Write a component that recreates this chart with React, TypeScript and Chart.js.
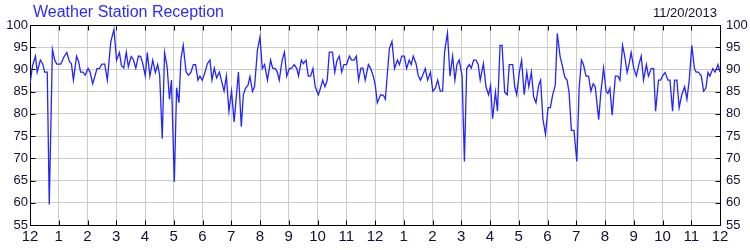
import React, { useEffect, useRef } from "react";
import { Chart, registerables } from "chart.js";

Chart.register(...registerables);

const TITLE = "Weather Station Reception";
const DATE_LABEL = "11/20/2013";
const HOUR_LABELS = ["12", "1", "2", "3", "4", "5", "6", "7", "8", "9", "10", "11", "12", "1", "2", "3", "4", "5", "6", "7", "8", "9", "10", "11", "12"];
const Y_MIN = 55;
const Y_MAX = 100;
const Y_STEP = 5;

// time of sample in hours since midnight
const hours = [
  0.0, 0.09, 0.19, 0.25, 0.36, 0.44, 0.51, 0.6, 0.67, 0.78, 0.86, 0.93, 1.07, 1.18, 1.28, 1.37, 1.44, 1.51, 1.62, 1.69, 1.76, 1.84, 1.92, 2.02, 2.09, 2.18, 2.25, 2.33, 2.41, 2.5, 2.6, 2.69, 2.81, 2.92, 3.01, 3.11, 3.18, 3.26, 3.35, 3.42, 3.52, 3.59, 3.68, 3.77, 3.85, 3.93, 4.01,
  4.08, 4.17, 4.27, 4.36, 4.44, 4.51, 4.6, 4.68, 4.77, 4.85, 4.92, 5.02, 5.1, 5.18, 5.25, 5.33, 5.43, 5.51, 5.6, 5.68, 5.76, 5.84, 5.91, 5.99, 6.09, 6.17, 6.26, 6.33, 6.41, 6.49, 6.59, 6.67, 6.75, 6.83, 6.92, 7.01, 7.1, 7.25, 7.35, 7.42, 7.5, 7.58, 7.65, 7.74, 7.81, 7.91, 8.0,
  8.08, 8.16, 8.26, 8.37, 8.44, 8.53, 8.6, 8.67, 8.77, 8.85, 8.93, 9.02, 9.1, 9.19, 9.28, 9.34, 9.44, 9.51, 9.6, 9.68, 9.76, 9.84, 9.92, 10.03, 10.1, 10.18, 10.26, 10.34, 10.41, 10.52, 10.6, 10.68, 10.76, 10.84, 10.92, 11.01, 11.11, 11.19, 11.27, 11.35, 11.43, 11.51, 11.58, 11.66, 11.77, 11.85, 11.94, 12.01, 12.08,
  12.2, 12.29, 12.36, 12.5, 12.59, 12.68, 12.78, 12.85, 12.93, 13.02, 13.1, 13.19, 13.26, 13.33, 13.43, 13.5, 13.58, 13.66, 13.75, 13.83, 13.93, 14.01, 14.1, 14.18, 14.27, 14.35, 14.42, 14.52, 14.61, 14.7, 14.78, 14.85, 14.93, 15.03, 15.11, 15.19, 15.28, 15.35, 15.43, 15.51, 15.59, 15.66, 15.77, 15.86, 15.95, 16.02, 16.09,
  16.19, 16.26, 16.35, 16.42, 16.51, 16.6, 16.67, 16.79, 16.86, 16.93, 17.02, 17.1, 17.19, 17.28, 17.35, 17.44, 17.52, 17.6, 17.69, 17.76, 17.84, 17.93, 18.02, 18.1, 18.18, 18.27, 18.34, 18.44, 18.5, 18.6, 18.68, 18.75, 18.83, 18.92, 19.02, 19.1, 19.18, 19.25, 19.34, 19.43, 19.51, 19.59, 19.66, 19.78, 19.86, 19.95, 20.04, 20.1, 20.17,
  20.25, 20.36, 20.45, 20.52, 20.61, 20.68, 20.77, 20.84, 20.91, 21.0, 21.09, 21.17, 21.26, 21.34, 21.44, 21.51, 21.61, 21.69, 21.76, 21.86, 21.93, 22.02, 22.09, 22.19, 22.26, 22.35, 22.42, 22.5, 22.58, 22.67, 22.77, 22.85, 22.93, 23.02, 23.11, 23.17, 23.25, 23.35, 23.43, 23.51, 23.58, 23.65, 23.75, 23.83, 23.93, 24.0,
];

// reception percentage
const reception = [
  86.8, 90.9, 93.0, 89.4, 92.1, 91.3, 89.4, 89.4, 59.6, 94.5, 92.1, 91.2, 91.2, 92.8, 93.8, 91.8, 91.3, 87.6, 93.0, 91.8, 89.4, 89.4, 88.7, 90.2, 89.4, 86.8, 88.3, 90.2, 90.2, 91.2, 91.2, 87.6, 96.2, 99.0, 92.1, 93.8, 90.9, 90.3, 93.9, 90.6, 92.9, 92.3, 90.3, 93.0, 92.9, 91.1, 88.6,
  93.8, 88.5, 92.1, 89.3, 91.1, 88.7, 74.4, 93.8, 90.6, 83.3, 87.6, 64.7, 85.9, 82.5, 92.4, 95.4, 89.4, 88.7, 89.4, 91.1, 91.1, 87.6, 88.5, 87.6, 89.4, 91.3, 92.1, 87.6, 90.3, 88.1, 89.4, 87.2, 85.1, 88.5, 80.6, 85.1, 78.2, 89.4, 77.1, 84.3, 85.8, 86.4, 88.4, 85.1, 86.1, 94.3, 97.3,
  90.2, 91.1, 87.6, 92.1, 90.3, 90.2, 89.4, 87.6, 92.1, 93.9, 88.5, 90.2, 90.3, 91.1, 90.2, 88.5, 92.1, 91.3, 92.1, 88.5, 88.5, 90.2, 86.1, 84.3, 85.7, 87.6, 86.1, 87.6, 93.9, 93.9, 89.4, 92.1, 93.0, 89.4, 91.1, 91.1, 93.0, 92.1, 92.1, 93.0, 87.6, 90.3, 90.3, 87.6, 91.1, 90.2, 88.5, 86.4, 82.5,
  84.3, 84.2, 83.3, 94.7, 96.3, 90.2, 92.1, 91.1, 93.0, 93.0, 90.2, 92.1, 91.1, 93.0, 91.3, 88.7, 87.6, 88.7, 90.2, 87.6, 89.4, 85.1, 85.8, 87.6, 85.1, 85.1, 93.9, 98.2, 88.5, 93.0, 87.6, 91.1, 92.1, 88.5, 69.3, 90.2, 91.1, 90.3, 92.1, 92.1, 91.1, 87.6, 91.3, 86.1, 84.3, 86.4, 78.9,
  84.9, 80.6, 95.4, 95.4, 84.9, 84.3, 91.1, 91.1, 86.1, 84.3, 89.4, 92.1, 84.3, 89.4, 86.1, 89.4, 83.8, 82.5, 86.4, 87.6, 78.9, 75.4, 81.4, 81.4, 84.3, 86.4, 98.1, 92.8, 91.3, 88.3, 87.6, 84.9, 76.3, 76.3, 69.3, 85.7, 92.1, 91.1, 88.5, 88.5, 85.1, 86.8, 86.1, 78.7, 85.1, 90.3, 85.1, 84.6, 85.8,
  79.7, 88.5, 88.5, 87.6, 95.4, 93.2, 89.3, 91.3, 93.8, 90.3, 88.5, 90.9, 93.0, 87.6, 91.1, 88.5, 90.2, 90.2, 80.6, 87.6, 87.6, 88.7, 89.3, 87.6, 87.6, 80.6, 87.6, 87.6, 81.4, 84.3, 86.1, 83.3, 87.6, 95.4, 90.2, 89.4, 89.4, 88.5, 85.1, 85.8, 89.3, 88.5, 90.2, 89.4, 91.1, 89.4,
];

const LABEL_FONT = "'Liberation Sans', Arial, sans-serif";
const X_FONT = "'Liberation Sans Narrow', 'Liberation Sans', Arial, sans-serif";

const framePlugin = {
  id: "frame",
  beforeDatasetsDraw(chart: any) {
    const { ctx, chartArea: a, scales } = chart;
    const tl = 5;
    ctx.save();
    ctx.strokeStyle = "#000";
    ctx.lineWidth = 1;
    ctx.beginPath();
    const top = Math.round(a.top) + 0.5;
    const bottom = Math.round(a.bottom) + 0.5;
    const left = Math.round(a.left) + 0.5;
    const right = Math.round(a.right) + 0.5;
    scales.x.ticks.forEach((t: any) => {
      const px = Math.round(scales.x.getPixelForValue(t.value)) + 0.5;
      ctx.moveTo(px, top);
      ctx.lineTo(px, top + tl);
      ctx.moveTo(px, bottom);
      ctx.lineTo(px, bottom - tl);
    });
    scales.y.ticks.forEach((t: any) => {
      const py = Math.round(scales.y.getPixelForValue(t.value)) + 0.5;
      ctx.moveTo(left, py);
      ctx.lineTo(left + tl, py);
      ctx.moveTo(right, py);
      ctx.lineTo(right - tl, py);
    });
    ctx.stroke();
    ctx.strokeRect(left, top, right - left, bottom - top);
    ctx.restore();
  },
  afterDraw(chart: any) {
    const { ctx } = chart;
    ctx.save();
    ctx.textBaseline = "alphabetic";
    ctx.font = `16px ${LABEL_FONT}`;
    ctx.fillStyle = "#2b2bff";
    ctx.textAlign = "left";
    ctx.fillText(TITLE, 33, 17);
    ctx.font = `13px ${LABEL_FONT}`;
    ctx.fillStyle = "#101030";
    ctx.textAlign = "right";
    ctx.fillText(DATE_LABEL, 717, 17);
    ctx.restore();
  },
};

export default function App() {
  const canvasRef = useRef<HTMLCanvasElement | null>(null);

  useEffect(() => {
    const canvas = canvasRef.current;
    if (!canvas) return;
    const points = hours.map((h, i) => ({ x: h, y: reception[i] }));
    const yTicks = {
      stepSize: Y_STEP,
      color: "#101030",
      font: { family: LABEL_FONT, size: 13 },
    };
    const chart = new Chart(canvas, {
      type: "line",
      data: {
        datasets: [
          {
            data: points,
            borderColor: "#2424ff",
            borderWidth: 1.3,
            pointRadius: 0,
            tension: 0,
            fill: false,
            yAxisID: "y",
          },
        ],
      },
      options: {
        responsive: false,
        animation: false,
        devicePixelRatio: 1,
        layout: { padding: { top: 25, bottom: 0, left: 0, right: 0 } },
        plugins: {
          legend: { display: false },
          title: { display: false },
          tooltip: { enabled: false },
        },
        scales: {
          x: {
            type: "linear",
            min: 0,
            max: HOUR_LABELS.length - 1,
            afterBuildTicks: (s: any) => {
              s.ticks = HOUR_LABELS.map((_, i) => ({ value: i }));
            },
            afterFit: (s: any) => {
              s.height = 25;
            },
            ticks: {
              autoSkip: false,
              maxRotation: 0,
              minRotation: 0,
              padding: 3,
              color: "#101030",
              font: { family: X_FONT, size: 15 },
              callback: (v: any) => HOUR_LABELS[Math.round(v)],
            },
            grid: { color: "#cccccc", drawTicks: false },
            border: { display: false },
          },
          y: {
            position: "left",
            min: Y_MIN,
            max: Y_MAX,
            afterFit: (s: any) => {
              s.width = 30;
            },
            ticks: { ...yTicks, padding: 2 },
            grid: { color: "#cccccc", drawTicks: false },
            border: { display: false },
          },
          y2: {
            position: "right",
            min: Y_MIN,
            max: Y_MAX,
            afterFit: (s: any) => {
              s.width = 30;
            },
            ticks: { ...yTicks, padding: 6 },
            grid: { display: false, drawTicks: false },
            border: { display: false },
          },
        },
      },
      plugins: [framePlugin],
    } as any);
    return () => chart.destroy();
  }, []);

  return (
    <div style={{ position: "absolute", left: 0, top: 0, width: 750, height: 250, background: "#fff" }}>
      <canvas ref={canvasRef} width={750} height={250} style={{ display: "block" }} />
    </div>
  );
}
